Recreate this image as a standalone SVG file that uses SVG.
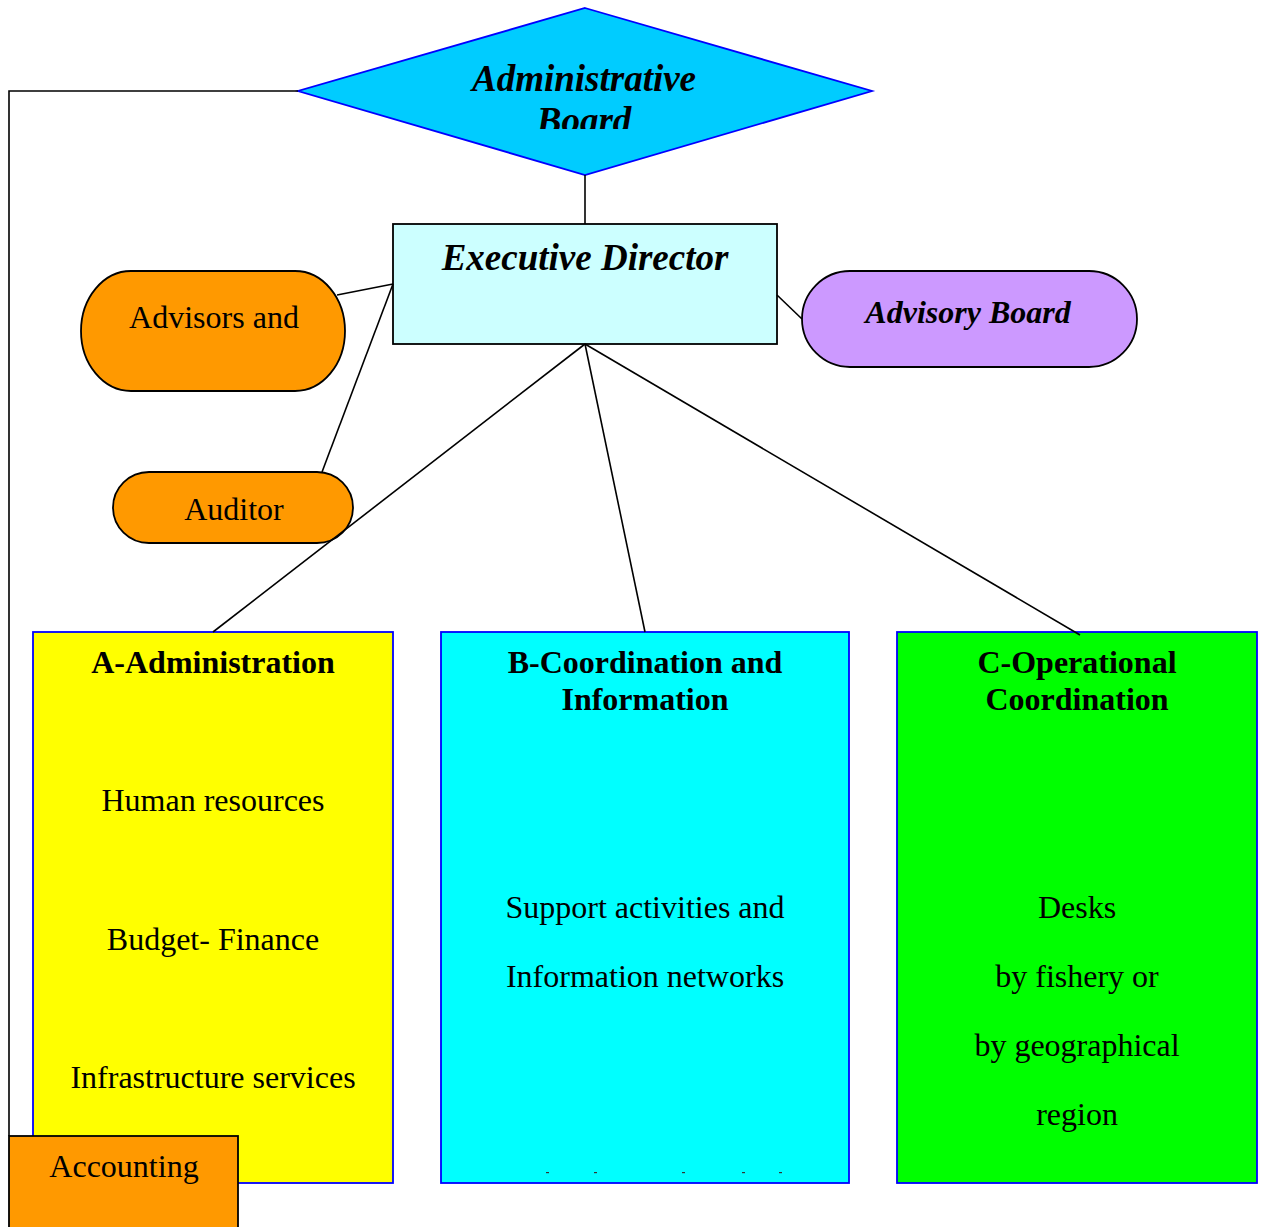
<svg xmlns="http://www.w3.org/2000/svg" width="1263" height="1227" viewBox="0 0 1263 1227">
<style>
.t{font-family:"Liberation Serif","Times New Roman",serif;font-size:32px;fill:#000;text-anchor:middle}
.b{font-weight:bold}
.bi{font-weight:bold;font-style:italic}
.blue{stroke:#0000FF;stroke-width:1.8}
.blk{stroke:#000;stroke-width:1.8}
.c{stroke:#000;stroke-width:1.6;fill:none}
</style>
<defs>
<clipPath id="dclip"><rect x="290" y="0" width="600" height="129"/></clipPath>
</defs>
<rect width="1263" height="1227" fill="#fff"/>
<g id="admin-board">
<polygon points="585,8 872,91 585,175 298,91" fill="#00CCFF" class="blue"/>
<g clip-path="url(#dclip)">
<text class="t bi" x="584" y="91" style="font-size:37px">Administrative</text>
<text class="t bi" x="584" y="133" style="font-size:37px">Board</text>
</g>
</g>
<g id="executive-director">
<rect x="393" y="224" width="384" height="120" fill="#CCFFFF" class="blk"/>
<text class="t bi" x="585" y="270" style="font-size:37px">Executive Director</text>
</g>
<g id="advisors">
<rect x="81" y="271" width="264" height="120" rx="50" ry="60" fill="#FF9900" class="blk"/>
<text class="t" x="214" y="328">Advisors and</text>
</g>
<g id="auditor">
<rect x="113" y="472" width="240" height="71" rx="36" ry="35.5" fill="#FF9900" class="blk"/>
<text class="t" x="234" y="520">Auditor</text>
</g>
<g id="advisory-board">
<rect x="802" y="271" width="335" height="96" rx="48" ry="48" fill="#CC99FF" class="blk"/>
<text class="t bi" x="968" y="323">Advisory Board</text>
</g>
<g id="a-administration">
<rect x="33" y="632" width="360" height="551" fill="#FFFF00" class="blue"/>
<text class="t b" x="213" y="673">A-Administration</text>
<text class="t" x="213" y="811">Human resources</text>
<text class="t" x="213" y="950">Budget- Finance</text>
<text class="t" x="213" y="1088">Infrastructure services</text>
</g>
<g id="b-coordination">
<rect x="441" y="632" width="408" height="551" fill="#00FFFF" class="blue"/>
<text class="t b" x="645" y="673">B-Coordination and</text>
<text class="t b" x="645" y="710">Information</text>
<text class="t" x="645" y="918">Support activities and</text>
<text class="t" x="645" y="987">Information networks</text>
<g fill="#333">
<rect x="546" y="1172" width="3" height="1.2"/>
<rect x="594" y="1172" width="3" height="1.2"/>
<rect x="682" y="1172" width="3" height="1.2"/>
<rect x="742" y="1172" width="3" height="1.2"/>
<rect x="779" y="1172" width="3" height="1.2"/>
</g>
</g>
<g id="c-operational">
<rect x="897" y="632" width="360" height="551" fill="#00FF00" class="blue"/>
<text class="t b" x="1077" y="673">C-Operational</text>
<text class="t b" x="1077" y="710">Coordination</text>
<text class="t" x="1077" y="918">Desks</text>
<text class="t" x="1077" y="987">by fishery or</text>
<text class="t" x="1077" y="1056">by geographical</text>
<text class="t" x="1077" y="1125">region</text>
</g>
<g id="accounting">
<rect x="9" y="1136" width="229" height="100" fill="#FF9900" class="blk"/>
<text class="t" x="124" y="1177">Accounting</text>
</g>
<g id="connectors">
<polyline class="c" points="298,91 9,91 9,1136"/>
<line class="c" x1="585" y1="175" x2="585" y2="224"/>
<line class="c" x1="393" y1="284" x2="337" y2="295"/>
<line class="c" x1="393" y1="284" x2="322" y2="472"/>
<line class="c" x1="777" y1="295" x2="802" y2="319"/>
<line class="c" x1="585" y1="344" x2="213" y2="632"/>
<line class="c" x1="585" y1="344" x2="645" y2="632"/>
<line class="c" x1="585" y1="344" x2="1080" y2="635"/>
</g>
</svg>
